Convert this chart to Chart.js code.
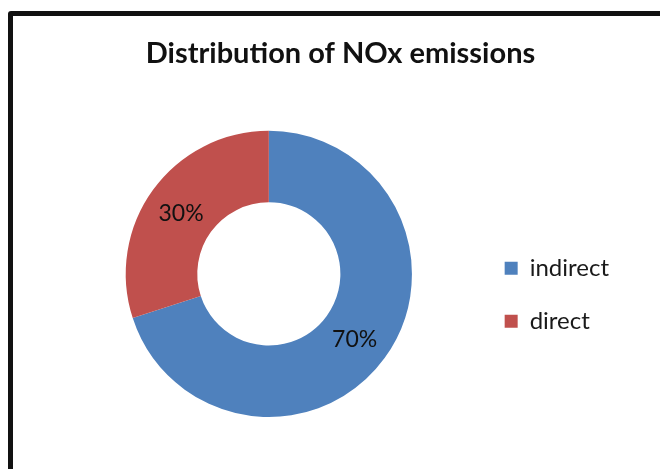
<!DOCTYPE html>
<html>
<head>
<meta charset="utf-8">
<script src="https://cdn.jsdelivr.net/npm/chart.js@4/dist/chart.umd.min.js"></script>
<style>
  html, body { margin: 0; padding: 0; background: #ffffff; overflow: hidden; }
  #frame { position: absolute; left: 8px; top: 11px; width: 700px; height: 520px;
           border: 5px solid #111; border-radius: 3px; box-sizing: border-box; }
  #wrap { position: absolute; left: 0; top: 0; width: 660px; height: 469px; }
</style>
</head>
<body>
<div id="frame"></div>
<div id="wrap"><canvas id="c" width="660" height="469"></canvas></div>
<script>
const chartTitle = 'Distribution of NOx emissions';
const categories = ['indirect', 'direct'];
const values = [70, 30];
const colors = ['#4F81BD', '#C0504D'];

const pctLabels = {
  id: 'pctLabels',
  afterDatasetsDraw(chart) {
    const ctx = chart.ctx;
    const meta = chart.getDatasetMeta(0);
    const data = chart.data.datasets[0].data;
    const total = data.reduce((a, b) => a + b, 0);
    ctx.save();
    ctx.font = '23px Lato';
    ctx.fillStyle = '#111111';
    ctx.textAlign = 'center';
    ctx.textBaseline = 'middle';
    meta.data.forEach((arc, i) => {
      const p = arc.tooltipPosition();
      ctx.fillText(Math.round(data[i] / total * 100) + '%', p.x - 1, p.y + 3);
    });
    ctx.restore();
  }
};

new Chart(document.getElementById('c'), {
  type: 'doughnut',
  data: {
    labels: categories,
    datasets: [{
      data: values,
      backgroundColor: colors,
      borderWidth: 0,
      hoverOffset: 0,
      offset: 0
    }]
  },
  options: {
    responsive: false,
    animation: false,
    cutout: '50%',
    layout: { padding: { left: 62, right: 41, top: 15, bottom: 52 } },
    plugins: {
      tooltip: { enabled: false },
      title: {
        display: true,
        text: chartTitle,
        color: '#111111',
        font: { family: 'Lato', size: 29, weight: 'bold' },
        padding: { top: 21, bottom: 60 }
      },
      legend: {
        position: 'right',
        fullSize: false,
        align: 'start',
        title: { display: true, text: ' ', font: { size: 10 }, padding: { top: 0, bottom: 84.5 } },
        labels: {
          boxWidth: 13,
          boxHeight: 13,
          padding: 29,
          color: '#1a1a1a',
          font: { family: 'Lato', size: 24 }
        }
      }
    }
  },
  plugins: [pctLabels]
});
</script>
</body>
</html>
